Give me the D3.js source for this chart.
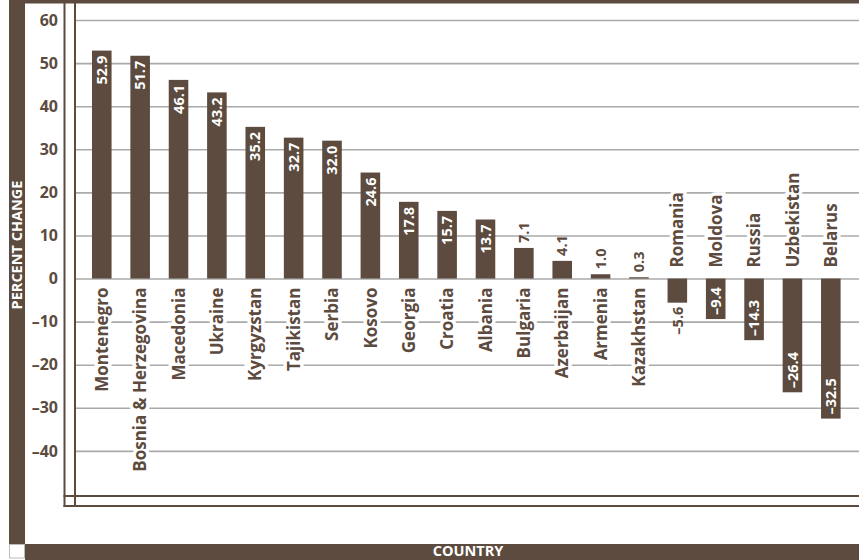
<!DOCTYPE html>
<html>
<head>
<meta charset="utf-8">
<script src="https://cdn.jsdelivr.net/npm/d3@7/dist/d3.min.js"></script>
<style>
  html, body { margin: 0; padding: 0; background: #fff; }
  svg { display: block; font-family: "Open Sans", "Noto Sans", sans-serif; }
</style>
</head>
<body>
<svg id="chart" width="859" height="560"></svg>
<script>
const countries = ["Montenegro", "Bosnia & Herzegovina", "Macedonia", "Ukraine", "Kyrgyzstan",
  "Tajikistan", "Serbia", "Kosovo", "Georgia", "Croatia", "Albania", "Bulgaria", "Azerbaijan",
  "Armenia", "Kazakhstan", "Romania", "Moldova", "Russia", "Uzbekistan", "Belarus"];
const values = [52.9, 51.7, 46.1, 43.2, 35.2, 32.7, 32.0, 24.6, 17.8, 15.7, 13.7, 7.1, 4.1,
  1.0, 0.3, -5.6, -9.4, -14.3, -26.4, -32.5];
const tickValues = [60, 50, 40, 30, 20, 10, 0, -10, -20, -30, -40];
const tickLabels = ["60", "50", "40", "30", "20", "10", "0", "–10", "–20", "–30", "–40"];
const yTitle = "PERCENT CHANGE";
const xTitle = "COUNTRY";

const BROWN = "#5c4b3e";
const GRID = "#aaaaaa";
const W = 859, H = 560;

const svg = d3.select("#chart");

const x = d3.scaleBand().domain(countries).range([82.6, 850]).paddingInner(0.49).paddingOuter(0.245);
const y = d3.scaleLinear().domain([-50, 60]).range([494, 20]);
const fmt = v => d3.format(".1f")(v).replace("−", "–").replace("-", "–");

// gridlines via axis
const gridAxis = d3.axisLeft(y).tickValues(tickValues).tickSize(-(W - 76)).tickFormat("");
const gridG = svg.append("g").attr("transform", "translate(76,0)").call(gridAxis);
gridG.select(".domain").remove();
gridG.selectAll("line").attr("stroke", GRID).attr("stroke-width", 1.6);

// y tick labels
const labelAxis = d3.axisLeft(y).tickValues(tickValues).tickSize(0).tickPadding(0)
  .tickFormat((d, i) => tickLabels[i]);
const labG = svg.append("g").attr("transform", "translate(58,0)").call(labelAxis);
labG.select(".domain").remove();
labG.selectAll("text").attr("fill", BROWN).attr("font-size", 16).attr("font-weight", 700)
  .attr("font-family", "'Open Sans', sans-serif");

// bars
const zero = y(0);
svg.append("g").selectAll("rect").data(values).join("rect")
  .attr("x", (d, i) => x(countries[i]))
  .attr("width", x.bandwidth())
  .attr("y", d => d >= 0 ? y(d) : zero)
  .attr("height", d => Math.max(1, Math.abs(y(d) - zero)))
  .attr("fill", BROWN);

// country labels
svg.append("g").selectAll("text").data(values).join("text")
  .attr("transform", (d, i) => {
    const cx = x(countries[i]) + x.bandwidth() / 2;
    const ty = d >= 0 ? zero + 9 : zero - 11;
    return `translate(${cx},${ty}) rotate(-90)`;
  })
  .attr("text-anchor", d => d >= 0 ? "end" : "start")
  .attr("dy", "0.36em")
  .attr("fill", BROWN)
  .attr("font-size", 17)
  .attr("font-weight", 700)
  .attr("stroke", "#fff").attr("stroke-width", 7).attr("paint-order", "stroke")
  .text((d, i) => countries[i]);

// value labels
svg.append("g").selectAll("text").data(values).join("text")
  .attr("transform", (d, i) => {
    const cx = x(countries[i]) + x.bandwidth() / 2;
    let ty;
    const inside = Math.abs(d) >= 9;
    if (d >= 0) ty = inside ? y(d) + 5 : y(d) - 5;
    else ty = inside ? y(d) - 4 : y(d) + 4;
    return `translate(${cx},${ty}) rotate(-90)`;
  })
  .attr("text-anchor", d => {
    const inside = Math.abs(d) >= 9;
    if (d >= 0) return inside ? "end" : "start";
    return inside ? "start" : "end";
  })
  .attr("dy", "0.36em")
  .attr("fill", d => Math.abs(d) >= 9 ? "#fff" : BROWN)
  .attr("font-size", 14.5)
  .attr("font-weight", 700)
  .text(d => fmt(d));

// frame double lines
const frame = svg.append("g").attr("stroke", BROWN).attr("stroke-width", 2);
frame.append("line").attr("x1", 64.5).attr("x2", 64.5).attr("y1", 0).attr("y2", 507);
frame.append("line").attr("x1", 75).attr("x2", 75).attr("y1", 0).attr("y2", 507);
frame.append("line").attr("x1", 63.5).attr("x2", W).attr("y1", 496).attr("y2", 496);
frame.append("line").attr("x1", 63.5).attr("x2", W).attr("y1", 506).attr("y2", 506);

// top bar
svg.append("rect").attr("x", 9).attr("y", 0).attr("width", W - 9).attr("height", 3.5).attr("fill", BROWN);
// left bar
svg.append("rect").attr("x", 9).attr("y", 0).attr("width", 16).attr("height", 544).attr("fill", BROWN);
// bottom bar
svg.append("rect").attr("x", 25).attr("y", 544).attr("width", W - 25).attr("height", 16).attr("fill", BROWN);
// small white square
svg.append("rect").attr("x", 9.5).attr("y", 544.5).attr("width", 15).attr("height", 13.5)
  .attr("fill", "#fff").attr("stroke", "#bbb").attr("stroke-width", 1);

// axis titles
svg.append("text")
  .attr("transform", "translate(17,245) rotate(-90)")
  .attr("text-anchor", "middle").attr("dy", "0.36em")
  .attr("fill", "#fff").attr("font-size", 14.5).attr("font-weight", 700)
  .text(yTitle);
svg.append("text")
  .attr("x", 468).attr("y", 551)
  .attr("text-anchor", "middle").attr("dy", "0.36em")
  .attr("fill", "#fff").attr("font-size", 14.5).attr("font-weight", 700)
  .text(xTitle);
</script>
</body>
</html>
